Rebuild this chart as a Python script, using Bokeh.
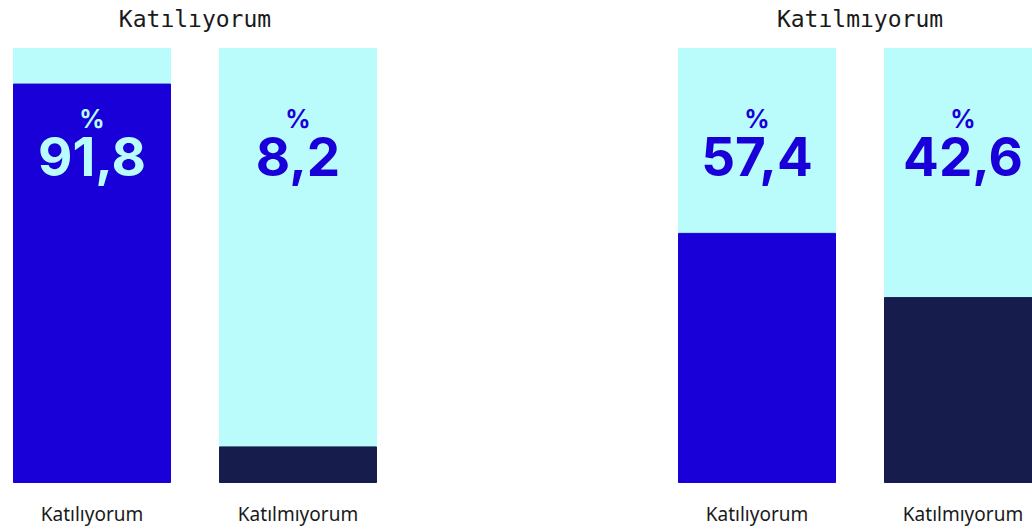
from bokeh.plotting import figure
from bokeh.models import Range1d, ColumnDataSource
from bokeh.core.properties import value
from bokeh.embed import file_html
from bokeh.resources import INLINE

# ---- data ----
groups = ["Katılıyorum", "Katılmıyorum"]
categories = ["Katılıyorum", "Katılmıyorum"]
group1_values = [91.8, 8.2]
group2_values = [57.4, 42.6]
series = [group1_values, group2_values]

# ---- style ----
BLUE = "#1900d8"
NAVY = "#161c4c"
CYAN = "#bafcfc"
bar_colors = [BLUE, NAVY]

STEP_PX = 206.0           # distance between bar centres in a group
GROUP_STEP = 665.0 / STEP_PX
BAR_W = 157.0 / STEP_PX
W, H = 1032, 529
PX_PER_Y = 4.34
LEFT_PX = 91.5
BOTTOM_PX = 482

xs, tops, cols, labels, lab_cols, cat_names = [], [], [], [], [], []
for gi, vals in enumerate(series):
    for ci, v in enumerate(vals):
        xs.append(gi * GROUP_STEP + ci)
        tops.append(v)
        cols.append(bar_colors[ci])
        labels.append(f"{v:.1f}".replace(".", ","))
        lab_cols.append(CYAN if v > 80 else BLUE)
        cat_names.append(categories[ci])

src = ColumnDataSource(dict(x=xs, top=tops, color=cols, label=labels,
                            lab_color=lab_cols, cat=cat_names,
                            full=[100] * len(xs), pct=["%"] * len(xs),
                            zero=[0] * len(xs)))

gsrc = ColumnDataSource(dict(x=[gi * GROUP_STEP + 0.5 for gi in range(len(groups))],
                             y=[100] * len(groups), name=groups))

x0 = -LEFT_PX / STEP_PX
y0 = -(H - BOTTOM_PX) / PX_PER_Y
p = figure(width=W, height=H, output_backend="svg", toolbar_location=None,
           x_range=Range1d(x0, x0 + W / STEP_PX),
           y_range=Range1d(y0, y0 + H / PX_PER_Y),
           min_border=0, outline_line_color=None,
           x_axis_location=None, y_axis_location=None)
p.grid.visible = False
p.background_fill_color = "white"
p.border_fill_color = "white"

p.vbar(x="x", top="full", bottom=0, width=BAR_W, color=CYAN, source=src)
p.vbar(x="x", top="top", bottom=0, width=BAR_W, color="color", source=src)

p.text(x="x", y="full", text="pct", source=src, text_color="lab_color",
       text_font=value("Inter"), text_font_size="25px", text_font_style="bold",
       text_align="center", text_baseline="alphabetic", y_offset=70)
p.text(x="x", y="full", text="label", source=src, text_color="lab_color",
       text_font=value("Inter"), text_font_size="53px", text_font_style="bold",
       text_align="center", text_baseline="alphabetic", y_offset=108)

p.text(x="x", y="zero", text="cat", source=src, text_color="#1a1a1a",
       text_font=value("Noto Sans"), text_font_size="19px",
       text_align="center", text_baseline="alphabetic", y_offset=31)

p.text(x="x", y="y", text="name", source=gsrc, text_color="#1a1a1a",
       text_font=value("DejaVu Sans Mono"), text_font_size="23px",
       text_align="center", text_baseline="alphabetic", y_offset=-30)

open("out.html", "w").write(file_html(p, INLINE))
